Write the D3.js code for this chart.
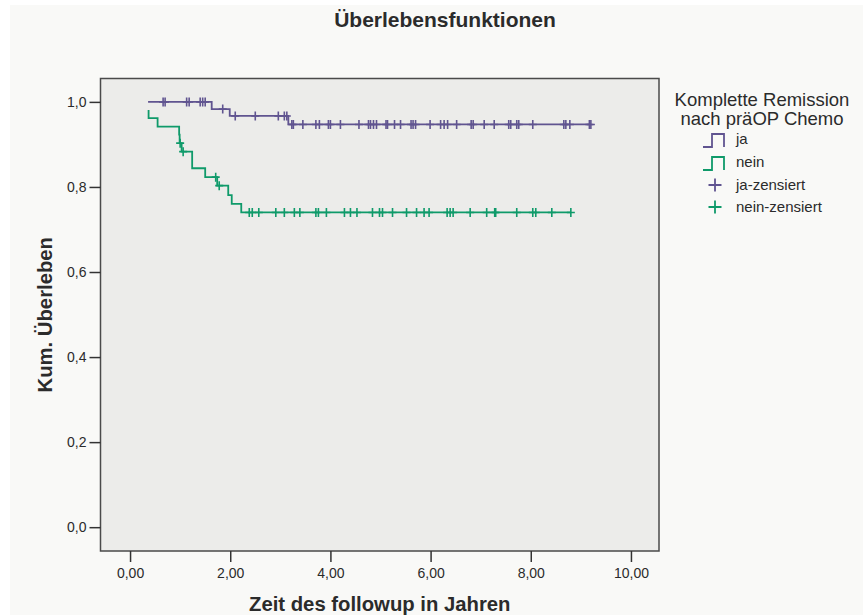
<!DOCTYPE html>
<html>
<head>
<meta charset="utf-8">
<script src="https://cdn.jsdelivr.net/npm/d3@7"></script>
<style>
  body { margin: 0; background: #fff; }
  text { font-family: "Liberation Sans", Arial, sans-serif; fill: #2b2b2b; }
</style>
</head>
<body>
<script>
// DATA
// ja: step vertices (time, cumulative survival)
var jaTimes = [0.36, 1.63, 1.99, 3.16];
var jaSurv = [1.0, 0.983, 0.967, 0.947];
var jaEnd = 9.20;
var jaCensored = [0.66, 0.70, 1.13, 1.18, 1.40, 1.45, 1.50, 1.85, 2.10, 2.50, 2.96, 3.08, 3.13,
  3.23, 3.26, 3.45, 3.71, 3.78, 3.96, 4.00, 4.20, 4.57, 4.76, 4.80, 4.86, 4.92, 5.11, 5.14,
  5.28, 5.40, 5.61, 5.65, 5.70, 5.99, 6.20, 6.27, 6.34, 6.52, 6.81, 6.85, 7.07, 7.27, 7.56,
  7.60, 7.72, 7.76, 8.04, 8.66, 8.70, 8.78, 9.17, 9.20];

// nein
var neinTimes = [0.37, 0.37, 0.55, 0.98, 0.99, 1.03, 1.24, 1.50, 1.74, 1.96, 2.03, 2.22];
var neinSurv = [0.981, 0.962, 0.942, 0.923, 0.903, 0.883, 0.844, 0.823, 0.803, 0.781, 0.760, 0.740];
var neinEnd = 8.80;
var neinCensored = [1.00, 1.06, 1.71, 1.78, 2.38, 2.44, 2.57, 2.91, 3.08, 3.28, 3.39, 3.71,
  3.76, 3.92, 4.28, 4.40, 4.53, 4.84, 4.98, 5.04, 5.24, 5.52, 5.72, 5.87, 5.97, 6.33, 6.39,
  6.45, 6.79, 7.12, 7.28, 7.30, 7.72, 8.04, 8.10, 8.42, 8.80];

var xTicks = [0, 2, 4, 6, 8, 10];
var yTicks = [0, 0.2, 0.4, 0.6, 0.8, 1.0];
var legendLabels = ["ja", "nein", "ja-zensiert", "nein-zensiert"];

var colJa = "#605490",
  colNein = "#0f9a6a";

// SETUP
var W = 867, H = 615;
var svg = d3.select("body").append("svg")
  .attr("width", W)
  .attr("height", H);

// chart background
svg.append("rect")
  .attr("x", 10).attr("y", 5)
  .attr("width", W - 14).attr("height", H - 5)
  .attr("fill", "#f9f9f7");

var plot = { left: 100.5, right: 659, top: 78.5, bottom: 551 };

var x = d3.scaleLinear().domain([-0.59, 10.56]).range([plot.left, plot.right]);
var y = d3.scaleLinear().domain([-0.056, 1.055]).range([plot.bottom, plot.top]);

svg.append("rect")
  .attr("x", plot.left).attr("y", plot.top)
  .attr("width", plot.right - plot.left)
  .attr("height", plot.bottom - plot.top)
  .attr("fill", "#ececea")
  .attr("stroke", "#4a4a4a")
  .attr("stroke-width", 1.5);

// axes
var fmtX = function (d) { return d3.format(".2f")(d).replace(".", ","); };
var fmtY = function (d) { return d3.format(".1f")(d).replace(".", ","); };

var xAxis = svg.append("g")
  .attr("transform", "translate(0," + plot.bottom + ")")
  .call(d3.axisBottom(x).tickValues(xTicks).tickFormat(fmtX).tickSize(11).tickPadding(6));
var yAxis = svg.append("g")
  .attr("transform", "translate(" + plot.left + ",0)")
  .call(d3.axisLeft(y).tickValues(yTicks).tickFormat(fmtY).tickSize(11).tickPadding(3));

[xAxis, yAxis].forEach(function (a) {
  a.select(".domain").remove();
  a.selectAll(".tick line").attr("stroke", "#333").attr("stroke-width", 1.5);
  a.selectAll(".tick text")
    .attr("fill", "#333")
    .style("font-size", "14px")
    .style("font-family", "'Liberation Sans', Arial, sans-serif");
});

// titles
svg.append("text")
  .attr("x", 445).attr("y", 27)
  .attr("text-anchor", "middle")
  .style("font-size", "21px").style("font-weight", "bold")
  .text("Überlebensfunktionen");

svg.append("text")
  .attr("x", (plot.left + plot.right) / 2).attr("y", 611)
  .attr("text-anchor", "middle")
  .style("font-size", "20.3px").style("font-weight", "bold")
  .text("Zeit des followup in Jahren");

svg.append("text")
  .attr("transform", "translate(52," + ((plot.top + plot.bottom) / 2) + ") rotate(-90)")
  .attr("text-anchor", "middle")
  .style("font-size", "20.3px").style("font-weight", "bold")
  .text("Kum. Überleben");

// CURVES
var stepLine = d3.line()
  .x(function (d) { return x(d[0]); })
  .y(function (d) { return y(d[1]); })
  .curve(d3.curveStepAfter);

function survAt(times, surv, t) {
  var s = surv[0];
  for (var i = 0; i < times.length; i++) {
    if (times[i] <= t) s = surv[i];
  }
  return s;
}

function drawGroup(times, surv, end, censored, col) {
  var pts = times.map(function (t, i) { return [t, surv[i]]; });
  pts.push([end, surv[surv.length - 1]]);
  svg.append("path")
    .attr("d", stepLine(pts))
    .attr("fill", "none")
    .attr("stroke", col)
    .attr("stroke-width", 1.8);

  var g = svg.append("g")
    .attr("stroke", col)
    .attr("stroke-width", 1.6);
  censored.forEach(function (t) {
    var cx = x(t), cy = y(survAt(times, surv, t));
    g.append("path")
      .attr("d", "M" + (cx - 4) + "," + cy + "H" + (cx + 4) + "M" + cx + "," + (cy - 4.5) + "V" + (cy + 4.5));
  });
}

drawGroup(jaTimes, jaSurv, jaEnd, jaCensored, colJa);
drawGroup(neinTimes, neinSurv, neinEnd, neinCensored, colNein);

// LEGEND
var lg = svg.append("g");
lg.append("text")
  .attr("x", 762).attr("y", 106)
  .attr("text-anchor", "middle")
  .style("font-size", "18.5px")
  .text("Komplette Remission");
lg.append("text")
  .attr("x", 762).attr("y", 125)
  .attr("text-anchor", "middle")
  .style("font-size", "18.5px")
  .text("nach präOP Chemo");

var itemY = [144, 167, 190, 212];
var itemCol = [colJa, colNein, colJa, colNein];
legendLabels.forEach(function (lab, i) {
  var cy = itemY[i] - 5;
  if (i < 2) {
    lg.append("path")
      .attr("d", "M703," + (cy + 8) + "H712V" + (cy - 5) + "H724V" + (cy + 8))
      .attr("fill", "none")
      .attr("stroke", itemCol[i])
      .attr("stroke-width", 1.8);
  } else {
    lg.append("path")
      .attr("d", "M708.5," + cy + "H721.5M715," + (cy - 6.5) + "V" + (cy + 6.5))
      .attr("stroke", itemCol[i])
      .attr("stroke-width", 1.8);
  }
  lg.append("text")
    .attr("x", 736).attr("y", itemY[i])
    .style("font-size", "15px")
    .text(lab);
});
</script>
</body>
</html>
